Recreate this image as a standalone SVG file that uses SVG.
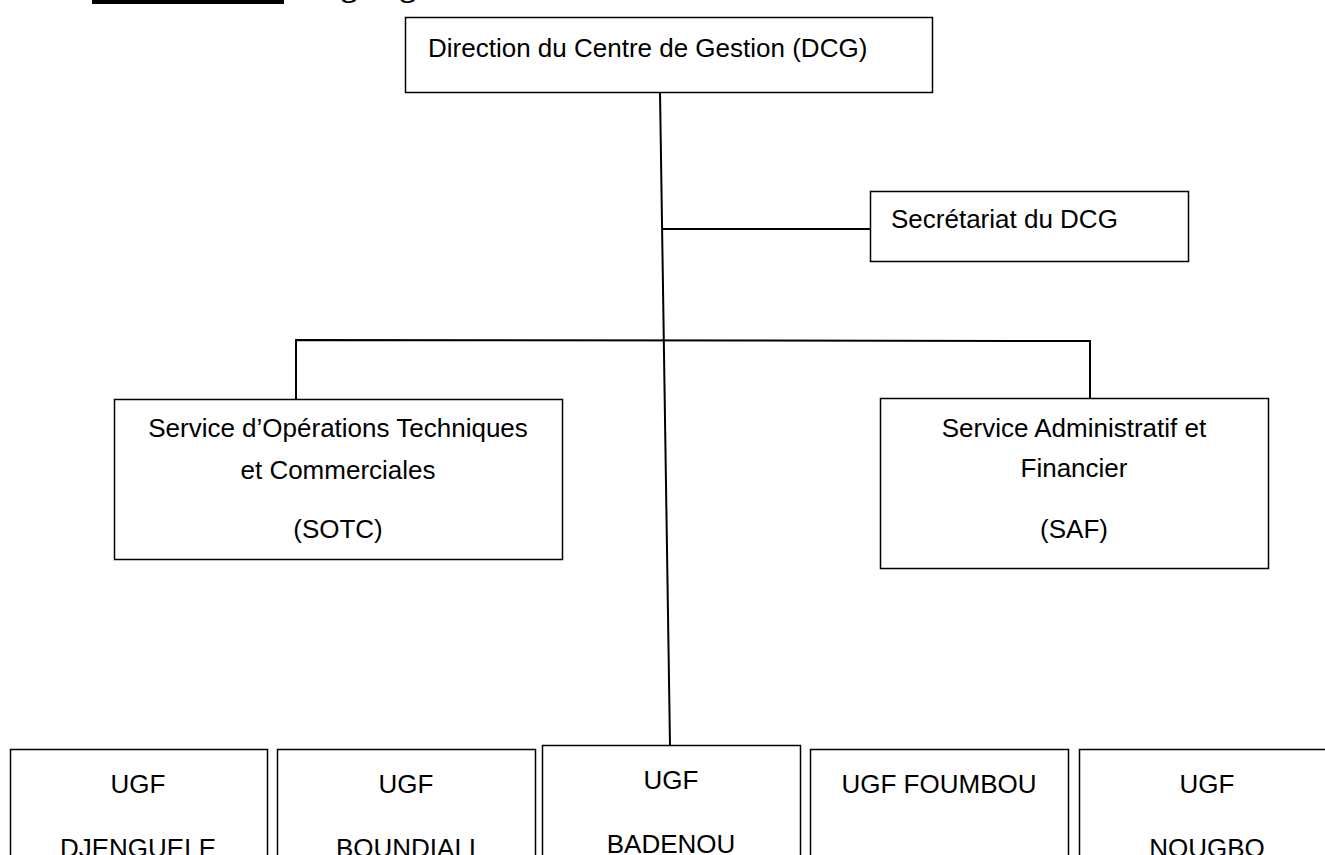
<svg xmlns="http://www.w3.org/2000/svg" width="1325" height="855" viewBox="0 0 1325 855">
<style>
.box{fill:#fff;stroke:#000;stroke-width:1.5}
.t{font-family:"Liberation Sans",Arial,sans-serif;font-size:26px;fill:#000}
.c{text-anchor:middle}
.ln{stroke:#000;stroke-width:2;fill:none}
</style>
<rect x="0" y="0" width="1325" height="855" fill="#fff"/>
<g id="title">
<rect x="92" y="0" width="192" height="4" fill="#000"/>
<text x="302" y="-4" font-family="'Liberation Serif',serif" font-weight="bold" font-size="32" fill="#000">Organigramme du Centre de Gestion</text>
</g>
<g id="connectors">
<line class="ln" x1="660" y1="92" x2="670" y2="745"/>
<line class="ln" x1="662" y1="229" x2="870" y2="229"/>
<polyline class="ln" points="296,399 296,340 1090,341 1090,398"/>
</g>
<g id="dcg">
<rect class="box" x="405.5" y="17.5" width="527" height="75"/>
<text class="t" x="428" y="57">Direction du Centre de Gestion (DCG)</text>
</g>
<g id="secretariat">
<rect class="box" x="870.5" y="191.5" width="318" height="70"/>
<text class="t" x="891" y="228">Secrétariat du DCG</text>
</g>
<g id="sotc">
<rect class="box" x="114.5" y="399.5" width="448" height="160"/>
<text class="t c" x="338" y="437">Service d’Opérations Techniques</text>
<text class="t c" x="338" y="479">et Commerciales</text>
<text class="t c" x="338" y="538">(SOTC)</text>
</g>
<g id="saf">
<rect class="box" x="880.5" y="398.5" width="388" height="170"/>
<text class="t c" x="1074" y="437">Service Administratif et</text>
<text class="t c" x="1074" y="477">Financier</text>
<text class="t c" x="1074" y="538">(SAF)</text>
</g>
<g id="ugf-djenguele">
<rect class="box" x="10.5" y="749.5" width="257" height="120"/>
<text class="t c" x="138" y="793">UGF</text>
<text class="t c" x="138" y="857">DJENGUELE</text>
</g>
<g id="ugf-boundiali">
<rect class="box" x="277.5" y="749.5" width="258" height="120"/>
<text class="t c" x="406" y="793">UGF</text>
<text class="t c" x="406" y="857">BOUNDIALI</text>
</g>
<g id="ugf-badenou">
<rect class="box" x="542.5" y="745.5" width="258" height="120"/>
<text class="t c" x="671" y="789">UGF</text>
<text class="t c" x="671" y="853">BADENOU</text>
</g>
<g id="ugf-foumbou">
<rect class="box" x="810.5" y="749.5" width="258" height="120"/>
<text class="t c" x="939" y="793">UGF FOUMBOU</text>
</g>
<g id="ugf-nougbo">
<rect class="box" x="1079.5" y="749.5" width="258" height="120"/>
<text class="t c" x="1207" y="793">UGF</text>
<text class="t c" x="1207" y="857">NOUGBO</text>
</g>
</svg>
